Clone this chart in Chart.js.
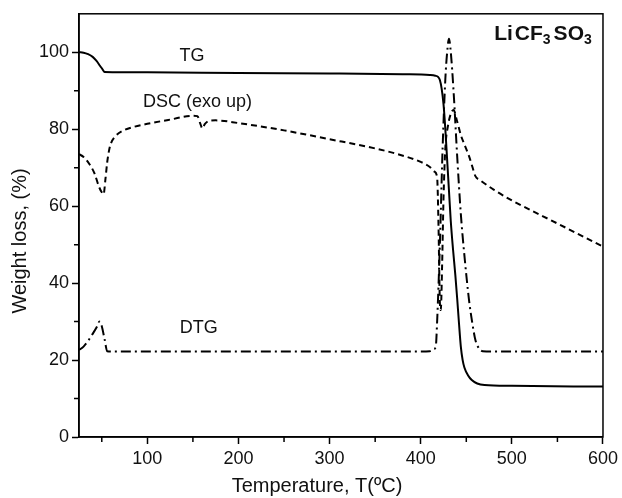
<!DOCTYPE html>
<html>
<head>
<meta charset="utf-8">
<script src="https://cdn.jsdelivr.net/npm/chart.js@4/dist/chart.umd.min.js"></script>
<style>
  html, body { margin: 0; padding: 0; background: #fff; }
  #wrap { width: 622px; height: 498px; }
</style>
</head>
<body>
<div id="wrap"><canvas id="chart" width="622" height="498"></canvas></div>
<script>
// TG curve (weight %, vs temperature °C)
const tgTemp = [25, 30, 35, 40, 44, 48, 51, 53, 100, 200, 300, 380, 410, 416, 419, 421, 423, 425, 427, 429, 431, 433, 435.5, 438, 440, 442, 444, 446, 448, 452, 456, 462, 470, 500, 600];
const tgWeight = [100, 99.9, 99.5, 98.8, 97.8, 96.5, 95.5, 94.9, 94.8, 94.6, 94.5, 94.3, 94.1, 93.9, 93.6, 92.8, 90.5, 86.5, 80, 72, 64, 56, 48.6, 42, 36, 29.5, 23.5, 20, 18, 16, 14.8, 13.9, 13.5, 13.3, 13.1];

// DSC curve (exo up)
const dscTemp = [25, 30, 36, 42, 47, 50, 52, 54, 56, 58, 60, 65, 75, 85, 100, 125, 150, 155, 158, 160.5, 163, 168, 175, 200, 250, 300, 350, 375, 400, 410, 415, 418, 419.5, 421, 422, 423.5, 425, 427, 430, 433, 436, 440, 444, 448, 453, 457, 460, 465, 480, 500, 550, 600];
const dscValue = [73.5, 72.8, 71.1, 68.5, 65, 63.6, 63.1, 67, 71.5, 74.5, 76.3, 78.2, 79.8, 80.6, 81.4, 82.5, 83.5, 83.4, 81.5, 80.2, 81.3, 82.2, 82.3, 81.6, 79.7, 77.4, 75, 73.5, 71.5, 70.2, 69, 67.5, 55, 35, 33, 45, 62, 75, 81, 84, 85, 82, 78.5, 76, 73, 70, 67.8, 66.8, 64.3, 61.5, 55.5, 49.5];

// DTG curve
const dtgTemp = [25, 30, 35, 40, 45, 47.5, 50, 53, 56, 60, 100, 200, 300, 400, 410, 414, 416.5, 418, 421, 424, 427, 429, 431, 433, 436, 440, 444, 448, 453, 457, 460, 464, 468, 480, 600];
const dtgValue = [22.6, 23.5, 25, 26.8, 28.8, 30, 28.8, 25.5, 22.3, 22.2, 22.2, 22.2, 22.2, 22.2, 22.3, 22.8, 23.5, 30, 50, 75, 93, 100, 103.5, 100, 90, 73, 58, 47, 35.6, 29, 25.2, 23, 22.3, 22.2, 22.2];

const xMajorTicks = [100, 200, 300, 400, 500, 600];
const xMinorTicks = [50, 150, 250, 350, 450, 550];
const yMajorTicks = [0, 20, 40, 60, 80, 100];
const yMinorTicks = [10, 30, 50, 70, 90];

const toPoints = (xs, ys) => xs.map((x, i) => ({ x, y: ys[i] }));

const FONT = "'Liberation Sans', Arial, Helvetica, sans-serif";
const INK = '#111';

// minor ticks, frame, axis titles and curve labels
const decorations = {
    id: 'decorations',
    afterDraw(chart) {
        const { ctx, chartArea: a, scales: { x, y } } = chart;
        ctx.save();
        ctx.strokeStyle = '#000';
        ctx.lineWidth = 1.5;
        ctx.strokeRect(a.left, a.top, a.right - a.left, a.bottom - a.top);

        ctx.beginPath();
        xMinorTicks.forEach(v => {
            const px = x.getPixelForValue(v);
            ctx.moveTo(px, a.bottom);
            ctx.lineTo(px, a.bottom + 5);
        });
        yMinorTicks.forEach(v => {
            const py = y.getPixelForValue(v);
            ctx.moveTo(a.left, py);
            ctx.lineTo(a.left - 5, py);
        });
        ctx.stroke();

        ctx.fillStyle = INK;
        ctx.textAlign = 'center';
        ctx.textBaseline = 'middle';
        ctx.font = '20px ' + FONT;
        ctx.fillText('Temperature, T(ºC)', 317, 486);
        ctx.save();
        ctx.translate(20, 241);
        ctx.rotate(-Math.PI / 2);
        ctx.fillText('Weight loss, (%)', 0, 0);
        ctx.restore();

        ctx.font = '18px ' + FONT;
        ctx.fillText('TG', x.getPixelForValue(149), y.getPixelForValue(99.1));
        ctx.fillText('DSC (exo up)', x.getPixelForValue(155), y.getPixelForValue(87));
        ctx.fillText('DTG', x.getPixelForValue(156.5), y.getPixelForValue(28.2));

        // LiCF3SO3 with subscripts
        ctx.textAlign = 'left';
        ctx.textBaseline = 'alphabetic';
        let px = x.getPixelForValue(480.6);
        const base = y.getPixelForValue(103.1);
        const parts = [['Li', 0, 21, 2], ['CF', 0, 21, 0], ['3', 4, 14, 3], ['SO', 0, 21, 0], ['3', 4, 14, 0]];
        parts.forEach(([t, dy, size, gap]) => {
            ctx.font = 'bold ' + size + 'px ' + FONT;
            ctx.fillText(t, px, base + dy);
            px += ctx.measureText(t).width + gap;
        });
        ctx.restore();
    }
};

new Chart(document.getElementById('chart'), {
    type: 'line',
    data: {
        datasets: [
            {
                label: 'TG',
                data: toPoints(tgTemp, tgWeight),
                borderColor: '#000',
                borderWidth: 2,
                pointRadius: 0,
                cubicInterpolationMode: 'monotone'
            },
            {
                label: 'DSC (exo up)',
                data: toPoints(dscTemp, dscValue),
                borderColor: '#000',
                borderWidth: 2,
                borderDash: [6, 4],
                pointRadius: 0,
                cubicInterpolationMode: 'monotone'
            },
            {
                label: 'DTG',
                data: toPoints(dtgTemp, dtgValue),
                borderColor: '#000',
                borderWidth: 2,
                borderDash: [10, 4, 2, 4],
                pointRadius: 0,
                cubicInterpolationMode: 'monotone'
            }
        ]
    },
    options: {
        responsive: false,
        animation: false,
        layout: { padding: { top: 12, right: 18, left: 0, bottom: 0 } },
        plugins: { legend: { display: false }, tooltip: { enabled: false } },
        scales: {
            x: {
                type: 'linear',
                min: 25,
                max: 600,
                afterFit: s => { s.height = 61; },
                afterBuildTicks: s => { s.ticks = xMajorTicks.map(v => ({ value: v })); },
                border: { display: true, color: '#000', width: 1.5 },
                grid: { drawOnChartArea: false, tickLength: 7, tickWidth: 1.5, tickColor: '#000' },
                ticks: { color: INK, font: { family: FONT, size: 18 }, padding: 4, maxRotation: 0, autoSkip: false }
            },
            y: {
                min: 0,
                max: 110,
                afterFit: s => { s.width = 79; },
                afterBuildTicks: s => { s.ticks = yMajorTicks.map(v => ({ value: v })); },
                border: { display: true, color: '#000', width: 1.5 },
                grid: { drawOnChartArea: false, tickLength: 7, tickWidth: 1.5, tickColor: '#000' },
                ticks: { color: INK, font: { family: FONT, size: 18 }, padding: 3, autoSkip: false }
            }
        }
    },
    plugins: [decorations]
});
</script>
</body>
</html>
